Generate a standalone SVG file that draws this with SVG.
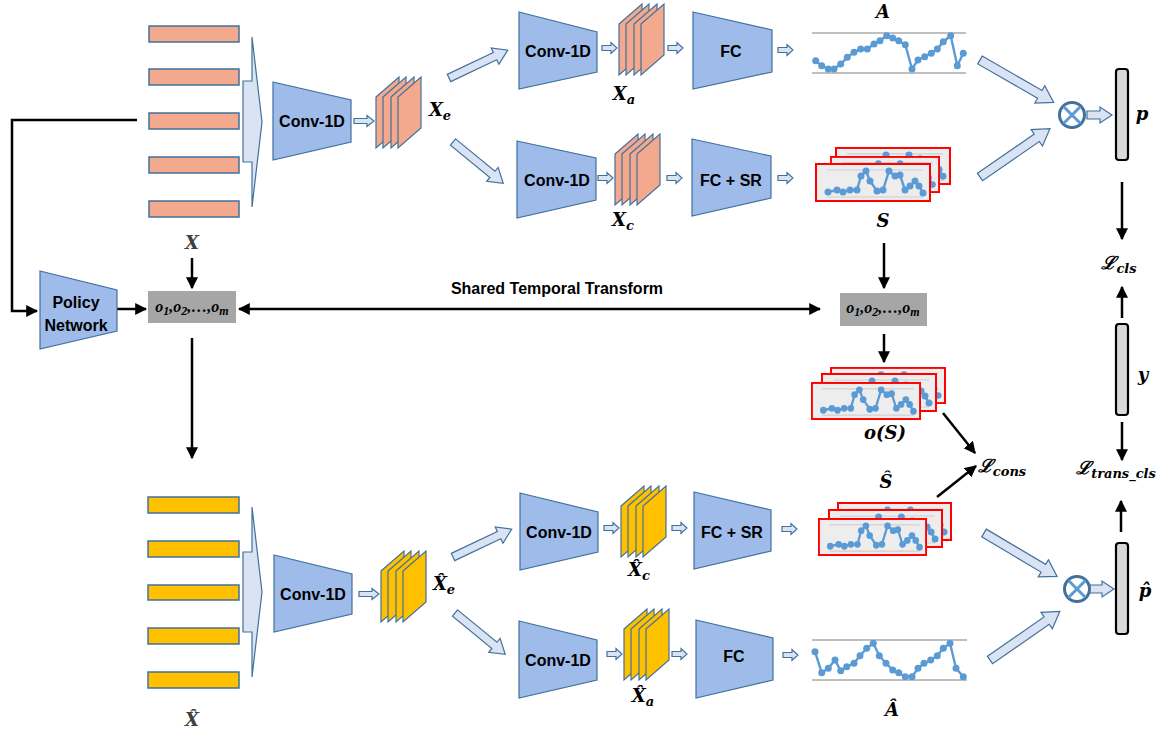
<svg xmlns="http://www.w3.org/2000/svg" xmlns:xlink="http://www.w3.org/1999/xlink" width="1166" height="737" viewBox="0 0 1166 737">
<style>
.bo{fill:#f2a98d;stroke:#41719c;stroke-width:1.5}
.by{fill:#ffc000;stroke:#41719c;stroke-width:1.5}
.trap{fill:#9ebbea;stroke:#41719c;stroke-width:1.2}
.lbl{font-family:"Liberation Sans",Arial,sans-serif;font-weight:bold;font-size:16px;fill:#000;text-anchor:middle}
.math{font-family:"DejaVu Serif","Liberation Serif",serif;font-weight:bold;font-style:italic;font-size:18px;fill:#000;text-anchor:middle}
.ops{font-family:"Liberation Serif","DejaVu Serif",serif;font-weight:bold;font-style:italic;font-size:16px;fill:#000;text-anchor:middle}
.blk{fill:#dae3f3;stroke:#41719c;stroke-width:1.2}
.conn{fill:none;stroke:#000;stroke-width:2.5}
.gbox{fill:#a6a6a6}
.spark{fill:none;stroke:#5b9bd5;stroke-width:2.4;marker-start:url(#dot);marker-mid:url(#dot);marker-end:url(#dot)}
.band{stroke:#bfbfbf;stroke-width:2}
.pbar{fill:#d9d9d9;stroke:#000;stroke-width:2.2}
.sheet{stroke:#41719c;stroke-width:1.2}
</style>
<defs>
<marker id="dot" markerUnits="userSpaceOnUse" markerWidth="9" markerHeight="9" refX="4.5" refY="4.5" viewBox="0 0 9 9"><circle cx="4.5" cy="4.5" r="3.5" fill="#5b9bd5"/></marker>
<marker id="ah" markerUnits="userSpaceOnUse" markerWidth="12" markerHeight="12" refX="9" refY="5" viewBox="0 0 10 10" orient="auto-start-reverse"><path d="M0,0 L10,5 L0,10 z" fill="#000"/></marker>
<g id="fm">
<polygon class="sheet" points="0,20 23,0 23,51 0,71"/>
<polygon class="sheet" points="7,20 30,0 30,51 7,71"/>
<polygon class="sheet" points="15,20 38,0 38,51 15,71"/>
<polygon class="sheet" points="22,20 45,0 45,51 22,71"/>
</g>
<polygon id="sa" class="blk" points="0,-2.5 9,-2.5 9,-5.5 15,0 9,5.5 9,2.5 0,2.5"/>
<polygon id="sa2" class="blk" points="0,-2.5 13,-2.5 13,-5.5 20,0 13,5.5 13,2.5 0,2.5"/>
<polygon id="da" class="blk" points="0,-4 51,-4 51,-9 65,0 51,9 51,4 0,4"/>
<polygon id="db" class="blk" points="0,-4.5 69,-4.5 69,-10 85,0 69,10 69,4.5 0,4.5"/>
<polygon id="dc" class="blk" points="0,-4 13,-4 13,-8 25,0 13,8 13,4 0,4"/>
<symbol id="fr" viewBox="0 0 116 39" preserveAspectRatio="none">
<rect x="1" y="1" width="114" height="37" fill="#ededed" stroke="#ff0000" stroke-width="2"/>
<line x1="12" y1="7" x2="108" y2="7" stroke="#cfcfcf" stroke-width="1.2"/>
<line x1="12" y1="34" x2="108" y2="34" stroke="#cfcfcf" stroke-width="1.2"/>
<polyline class="spark" points="13,29 22,27 28,29 35,27 42,27 46,13 51,8 55,18 62,28 68,27 74,8 80,13 85,12 90,27 95,23 100,18 104,23 108,30"/>
</symbol>
<g id="ox">
<circle cx="0" cy="0" r="12.5" fill="#fff" stroke="#41719c" stroke-width="3"/>
<path d="M-8.5,-8.5 L8.5,8.5 M-8.5,8.5 L8.5,-8.5" stroke="#5b9bd5" stroke-width="3"/>
</g>
</defs>

<g id="connectors">
<path class="conn" d="M137,120 H12 V311 H37" marker-end="url(#ah)"/>
<path class="conn" d="M117,309 H146" marker-end="url(#ah)"/>
<path class="conn" d="M192,258 V288" marker-end="url(#ah)"/>
<path class="conn" d="M239,309 H820" marker-start="url(#ah)" marker-end="url(#ah)"/>
<path class="conn" d="M192,338 V458" marker-end="url(#ah)"/>
<path class="conn" d="M884,243 V288" marker-end="url(#ah)"/>
<path class="conn" d="M884,334 V362" marker-end="url(#ah)"/>
<path class="conn" d="M943,413 L975,453" marker-end="url(#ah)"/>
<path class="conn" d="M937,497 L976,466" marker-end="url(#ah)"/>
<path class="conn" d="M1122,182 V239" marker-end="url(#ah)"/>
<path class="conn" d="M1122,318 V287" marker-end="url(#ah)"/>
<path class="conn" d="M1122,422 V460" marker-end="url(#ah)"/>
<path class="conn" d="M1121,532 V501" marker-end="url(#ah)"/>
<use xlink:href="#sa2" x="354" y="121"/>
<use xlink:href="#sa" x="602" y="48"/>
<use xlink:href="#sa" x="668" y="48"/>
<use xlink:href="#sa" x="778" y="50"/>
<use xlink:href="#sa" x="598" y="178"/>
<use xlink:href="#sa" x="667" y="178"/>
<use xlink:href="#sa" x="778" y="178"/>
<use xlink:href="#sa2" x="359" y="594"/>
<use xlink:href="#sa" x="604" y="528"/>
<use xlink:href="#sa" x="672" y="528"/>
<use xlink:href="#sa" x="782" y="529"/>
<use xlink:href="#sa" x="607" y="654"/>
<use xlink:href="#sa" x="672" y="654"/>
<use xlink:href="#sa" x="783" y="655"/>
<use xlink:href="#da" transform="translate(449,78) rotate(-25.4)"/>
<use xlink:href="#da" transform="translate(453,142) rotate(39.4)"/>
<use xlink:href="#da" transform="translate(453,557) rotate(-25.4)"/>
<use xlink:href="#da" transform="translate(455,613) rotate(39.4)"/>
<use xlink:href="#db" transform="translate(980,60) rotate(29.9)"/>
<use xlink:href="#db" transform="translate(980,177) rotate(-34.6)"/>
<use xlink:href="#db" transform="translate(984,533) rotate(30.7)"/>
<use xlink:href="#db" transform="translate(990,660) rotate(-34.8)"/>
<use xlink:href="#dc" x="1087" y="115"/>
<use xlink:href="#dc" x="1089" y="589"/>
</g>

<g id="input-X">
<rect class="bo" x="149" y="26" width="90" height="16"/>
<rect class="bo" x="149" y="69" width="90" height="16"/>
<rect class="bo" x="149" y="113" width="90" height="16"/>
<rect class="bo" x="149" y="157" width="90" height="16"/>
<rect class="bo" x="149" y="201" width="90" height="16"/>
<polygon class="blk" points="243,81 252,81 252,37 262,122 252,207 252,162 243,162"/>
<text x="192" y="249" class="math" style="fill:#404040" font-size="16">X</text>
</g>
<g id="conv-top"><polygon class="trap" points="273,82 351,100 351,142 273,160"/><text class="lbl" x="312" y="127">Conv-1D</text></g>
<g id="Xe"><use xlink:href="#fm" x="376" y="77" fill="#f2a98d"/><text class="math" x="440" y="116">X<tspan font-size="13" dy="4">e</tspan></text></g>
<g id="conv-a"><polygon class="trap" points="519,12 597,32 597,72 519,89"/><text class="lbl" x="558" y="57">Conv-1D</text></g>
<g id="Xa"><use xlink:href="#fm" x="619" y="4" fill="#f2a98d"/><text class="math" x="624" y="100">X<tspan font-size="13" dy="4">a</tspan></text></g>
<g id="fc-a"><polygon class="trap" points="693,12 772,30 772,72 693,89"/><text class="lbl" x="731" y="57">FC</text></g>
<g id="A">
<text class="math" x="883" y="18" font-size="17">A</text>
<line class="band" x1="812" y1="33" x2="966" y2="33"/><line class="band" x1="812" y1="73" x2="966" y2="73"/>
<polyline class="spark" points="815.7,60.7 821.7,65.7 828.3,69 834,69 840.7,64 847.3,57.3 854,52.3 860.7,49 867.3,49 874,44 880,40.7 886.7,35.7 892.7,38 898.7,40.7 905.3,44.7 912,69 918,60 924.7,56.7 931.3,53.3 937.3,49 943.3,41.7 950.7,35.7 957.3,65.7 963.3,53.3"/>
</g>
<g id="conv-c"><polygon class="trap" points="517,141 596,158 596,200 517,218"/><text class="lbl" x="557" y="186">Conv-1D</text></g>
<g id="Xc"><use xlink:href="#fm" x="615" y="134" fill="#f2a98d"/><text class="math" x="623" y="226">X<tspan font-size="13" dy="4">c</tspan></text></g>
<g id="fcsr-c"><polygon class="trap" points="692,139 771,156 771,198 692,216"/><text class="lbl" x="731" y="186">FC + SR</text></g>
<g id="S">
<use xlink:href="#fr" x="835" y="147" width="116" height="38"/>
<use xlink:href="#fr" x="830" y="156" width="110" height="37"/>
<use xlink:href="#fr" x="815" y="163" width="116" height="39"/>
<text class="math" x="883" y="227" font-size="17">S</text>
</g>
<g id="mult-top"><use xlink:href="#ox" x="1072" y="115"/></g>
<g id="p"><rect class="pbar" x="1116" y="69" width="12" height="91" rx="3"/><text class="math" x="1142" y="120" font-size="20">p</text></g>
<g id="Lcls"><text class="math" x="1119" y="269" font-size="18">ℒ<tspan font-size="13" dy="4">cls</tspan></text></g>
<g id="y"><rect class="pbar" x="1116" y="324" width="12" height="91" rx="3"/><text class="math" x="1143" y="381" font-size="20">y</text></g>
<g id="Ltrans"><text class="math" x="1116" y="474" font-size="18">ℒ<tspan font-size="13" dy="4">trans_cls</tspan></text></g>
<g id="policy"><polygon class="trap" points="40,271 117,290 117,331 40,349"/><text class="lbl" x="76" y="308">Policy</text><text class="lbl" x="76" y="331">Network</text></g>
<g id="ops-left"><rect class="gbox" x="148" y="291" width="88" height="32"/><text class="ops" x="192" y="312">o<tspan font-size="12" dy="3">1</tspan><tspan dy="-3">,o</tspan><tspan font-size="12" dy="3">2</tspan><tspan dy="-3">,…,o</tspan><tspan font-size="12" dy="3">m</tspan></text></g>
<g id="stt"><text class="lbl" x="557" y="294" font-size="14.5">Shared Temporal Transform</text></g>
<g id="ops-right"><rect class="gbox" x="840" y="293" width="87" height="33"/><text class="ops" x="883" y="313">o<tspan font-size="12" dy="3">1</tspan><tspan dy="-3">,o</tspan><tspan font-size="12" dy="3">2</tspan><tspan dy="-3">,…,o</tspan><tspan font-size="12" dy="3">m</tspan></text></g>
<g id="oS">
<use xlink:href="#fr" x="830" y="367" width="116" height="37"/>
<use xlink:href="#fr" x="821" y="373" width="116" height="39"/>
<use xlink:href="#fr" x="811" y="382" width="110" height="38"/>
<text class="math" x="885" y="439" font-size="17">o(S)</text>
</g>
<g id="Lcons"><text class="math" x="1002" y="472" font-size="18">ℒ<tspan font-size="13" dy="4">cons</tspan></text></g>
<g id="Shat"><text class="math" x="886" y="488" font-size="17">Ŝ</text>
<use xlink:href="#fr" x="837" y="502" width="115" height="39"/>
<use xlink:href="#fr" x="828" y="509" width="115" height="39"/>
<use xlink:href="#fr" x="818" y="518" width="109" height="38"/>
</g>
<g id="input-Xhat">
<rect class="by" x="148" y="497" width="91" height="16"/>
<rect class="by" x="148" y="541" width="91" height="16"/>
<rect class="by" x="148" y="585" width="91" height="15"/>
<rect class="by" x="148" y="628" width="91" height="16"/>
<rect class="by" x="148" y="672" width="91" height="16"/>
<polygon class="blk" points="243,552 252,552 252,507 262,592 252,677 252,632 243,632"/>
<text class="math" x="192" y="726" font-size="16" style="fill:#404040">X̂</text>
</g>
<g id="conv-bottom"><polygon class="trap" points="274,555 352,574 352,614 274,632"/><text class="lbl" x="313" y="600">Conv-1D</text></g>
<g id="Xe-hat"><use xlink:href="#fm" x="381" y="551" fill="#ffc000"/><text class="math" x="444" y="590">X̂<tspan font-size="13" dy="4">e</tspan></text></g>
<g id="conv-chat"><polygon class="trap" points="520,493 598,512 598,552 520,570"/><text class="lbl" x="559" y="538">Conv-1D</text></g>
<g id="Xc-hat"><use xlink:href="#fm" x="621" y="486" fill="#ffc000"/><text class="math" x="639" y="576">X̂<tspan font-size="13" dy="4">c</tspan></text></g>
<g id="fcsr-chat"><polygon class="trap" points="694,492 771,510 771,551 694,569"/><text class="lbl" x="732" y="538">FC + SR</text></g>
<g id="conv-ahat"><polygon class="trap" points="519,621 597,640 597,680 519,698"/><text class="lbl" x="558" y="666">Conv-1D</text></g>
<g id="Xa-hat"><use xlink:href="#fm" x="624" y="609" fill="#ffc000"/><text class="math" x="643" y="702">X̂<tspan font-size="13" dy="4">a</tspan></text></g>
<g id="fc-ahat"><polygon class="trap" points="696,620 773,638 773,680 696,698"/><text class="lbl" x="734" y="662">FC</text></g>
<g id="Ahat">
<line class="band" x1="812" y1="640" x2="967" y2="640"/><line class="band" x1="812" y1="680" x2="967" y2="680"/>
<polyline class="spark" points="815,651.7 821.7,672.7 828.3,668.3 835,660 840.7,670.7 846.7,666.7 854,663.3 860,655.7 866.7,648.3 873.3,643.3 879.3,655.7 886,663.3 892.7,670 898.7,672.7 905.3,676.7 912,676.7 918,668.3 924,663.3 930.7,660 937.3,655.7 943.3,648.3 950,643.3 956,668.3 963.3,676.7"/>
<text class="math" x="892" y="716" font-size="17">Â</text>
</g>
<g id="mult-bottom"><use xlink:href="#ox" x="1077" y="589"/></g>
<g id="phat"><rect class="pbar" x="1116" y="543" width="12" height="91" rx="3"/><text class="math" x="1145" y="597" font-size="20">p̂</text></g>
</svg>
